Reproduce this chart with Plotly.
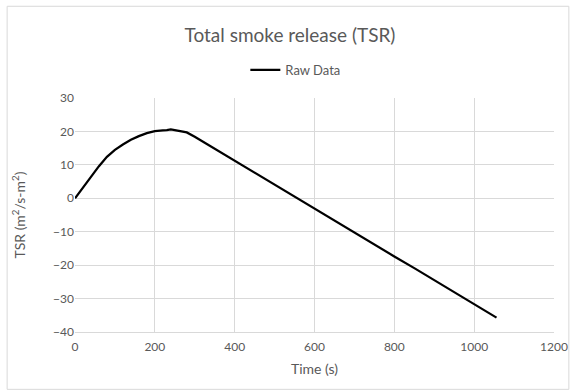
import plotly.graph_objects as go

# Total smoke release over time
time_s = [0, 20, 40, 60, 80, 100, 120, 140, 160, 180, 200, 210, 220, 230, 240,
          250, 260, 270, 280, 300, 350, 400, 450, 500, 550, 600, 650, 700, 750,
          800, 850, 900, 950, 1000, 1056]
tsr = [0, 3.2, 6.4, 9.6, 12.4, 14.5, 16.1, 17.5, 18.6, 19.5, 20.1, 20.3, 20.3,
       20.4, 20.6, 20.4, 20.1, 19.9, 19.7, 18.4, 14.8, 11.2, 7.7, 4.1, 0.5,
       -3.1, -6.6, -10.2, -13.8, -17.4, -20.9, -24.5, -28.1, -31.6, -35.7]

x_ticks = [0, 200, 400, 600, 800, 1000, 1200]
y_ticks = [-40, -30, -20, -10, 0, 10, 20, 30]

FONT = "Lato"
GREY = "#595959"
GRID = "#d9d9d9"

fig = go.Figure()
fig.add_trace(go.Scatter(
    x=time_s, y=tsr, mode="lines", name="Raw Data",
    line=dict(color="black", width=2.25),
))

fig.update_layout(
    width=580, height=392,
    margin=dict(l=75, r=18, t=98, b=60),
    paper_bgcolor="white", plot_bgcolor="white",
    font=dict(family=FONT, color=GREY, size=12),
    title=dict(text="Total smoke release (TSR)", x=0.5, xref="container",
               xanchor="center", y=1 - 35 / 392, yanchor="middle",
               font=dict(size=19, color=GREY, family=FONT)),
    showlegend=True,
    legend=dict(orientation="h", x=0.46, xanchor="center", y=1.12,
                yanchor="middle", font=dict(size=13, color=GREY, family=FONT),
                bgcolor="rgba(0,0,0,0)", itemwidth=30),
    xaxis=dict(range=[0, 1200], tickvals=x_ticks, showgrid=True,
               gridcolor=GRID, gridwidth=1, zeroline=False,
               showline=True, linecolor=GRID, mirror=False,
               ticks="", ticklabelstandoff=4,
               tickfont=dict(size=12, color=GREY),
               title=dict(text="Time (s)", font=dict(size=14, color=GREY),
                          standoff=10)),
    yaxis=dict(range=[-40, 30], tickvals=y_ticks, showgrid=True,
               gridcolor=GRID, gridwidth=1, zeroline=False,
               showline=False, ticks="", tickfont=dict(size=12, color=GREY),
               title=dict(text="TSR (m<sup>2</sup>/s-m<sup>2</sup>)",
                          font=dict(size=14, color=GREY), standoff=24)),
)

# outer chart border
fig.add_shape(type="rect", xref="paper", yref="paper",
              x0=-0.1417, x1=1.031, y0=-0.245, y1=1.392,
              line=dict(color=GRID, width=1), fillcolor="rgba(0,0,0,0)",
              layer="below")

fig.write_html("out.html")
